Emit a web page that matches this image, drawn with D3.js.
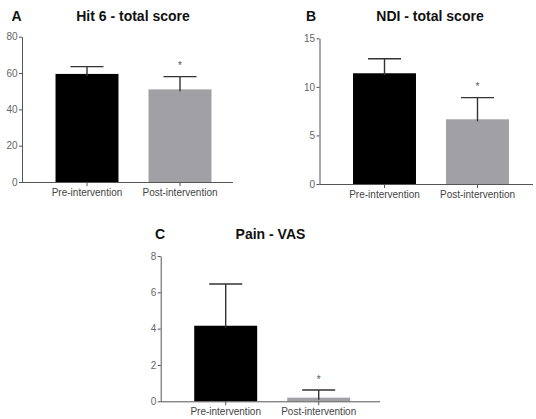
<!DOCTYPE html>
<html>
<head>
<meta charset="utf-8">
<script src="https://cdn.jsdelivr.net/npm/d3@7"></script>
<style>
  html, body { margin: 0; padding: 0; background: #fff; }
  svg { display: block; font-family: "Liberation Sans", Arial, sans-serif; }
</style>
</head>
<body>
<svg id="chart" width="536" height="419"></svg>
<script>
// ---- data ----
const categories = ["Pre-intervention", "Post-intervention"];

const hitMeans = [59.5, 51.0];
const hitErrors = [4.0, 7.0];
const hitTicks = [0, 20, 40, 60, 80];

const ndiMeans = [11.4, 6.66];
const ndiErrors = [1.5, 2.23];
const ndiTicks = [0, 5, 10, 15];

const vasMeans = [4.16, 0.2];
const vasErrors = [2.3, 0.42];
const vasTicks = [0, 2, 4, 6, 8];

const panelLetters = ["A", "B", "C"];
const panelTitles = ["Hit 6 - total score", "NDI - total score", "Pain - VAS"];
const significant = [false, true]; // asterisk on post-intervention

const barColors = ["#000000", "#a1a1a5"];

// ---- layout (positions only) ----
const layouts = [
  { axisX: 22,    y0: 182,   yTop: 36.7, xEnd: 233, letterX: 11.5, titleX: 133, titleY: 20.5 },
  { axisX: 319.5, y0: 184,   yTop: 38.3, xEnd: 533, letterX: 306,  titleX: 430, titleY: 20.5 },
  { axisX: 160.7, y0: 401.3, yTop: 256,  xEnd: 380, letterX: 155,  titleX: 270.5, titleY: 239.3 }
];

const panels = [
  { means: hitMeans, errors: hitErrors, ticks: hitTicks },
  { means: ndiMeans, errors: ndiErrors, ticks: ndiTicks },
  { means: vasMeans, errors: vasErrors, ticks: vasTicks }
];

const svg = d3.select("#chart");

panels.forEach((p, i) => {
  const L = layouts[i];
  const g = svg.append("g");
  const yMax = p.ticks[p.ticks.length - 1];

  const y = d3.scaleLinear().domain([0, yMax]).range([L.y0, L.yTop]);
  const x = d3.scaleBand()
    .domain(categories)
    .range([L.axisX + 18.5, L.axisX + 204.5])
    .paddingInner(0.323)
    .paddingOuter(0.1615);

  // bars
  const data = categories.map((c, j) => ({ c, m: p.means[j], e: p.errors[j], j }));
  g.selectAll("rect.bar").data(data).join("rect")
    .attr("class", "bar")
    .attr("x", d => x(d.c))
    .attr("width", x.bandwidth())
    .attr("y", d => y(d.m))
    .attr("height", d => y(0) - y(d.m))
    .attr("fill", d => barColors[d.j]);

  // error bars (upper)
  const capHalf = 16.5;
  g.selectAll("line.err").data(data).join("line")
    .attr("class", "err")
    .attr("x1", d => x(d.c) + x.bandwidth() / 2)
    .attr("x2", d => x(d.c) + x.bandwidth() / 2)
    .attr("y1", d => y(d.m) + 2)
    .attr("y2", d => y(d.m + d.e))
    .attr("stroke", "#333").attr("stroke-width", 1.4);
  g.selectAll("line.cap").data(data).join("line")
    .attr("class", "cap")
    .attr("x1", d => x(d.c) + x.bandwidth() / 2 - capHalf)
    .attr("x2", d => x(d.c) + x.bandwidth() / 2 + capHalf)
    .attr("y1", d => y(d.m + d.e))
    .attr("y2", d => y(d.m + d.e))
    .attr("stroke", "#333").attr("stroke-width", 1.4);

  // asterisks
  g.selectAll("text.star").data(data.filter(d => significant[d.j])).join("text")
    .attr("class", "star")
    .attr("x", d => x(d.c) + x.bandwidth() / 2)
    .attr("y", d => y(d.m + d.e) - 7.5)
    .attr("text-anchor", "middle")
    .attr("font-size", 10)
    .attr("fill", "#555")
    .text("*");

  // y axis
  const yAxis = g.append("g")
    .attr("transform", `translate(${L.axisX},0)`)
    .call(d3.axisLeft(y).tickValues(p.ticks).tickSize(3).tickSizeOuter(0).tickPadding(1.5));
  yAxis.select(".domain").attr("stroke", "#555");
  yAxis.selectAll(".tick line").attr("stroke", "#555");
  yAxis.selectAll(".tick text").attr("fill", "#666").attr("font-size", 10)
    .attr("font-family", "Liberation Sans, Arial, sans-serif");

  // x axis
  const xAxis = g.append("g")
    .attr("transform", `translate(0,${L.y0})`)
    .call(d3.axisBottom(x).tickSize(4).tickPadding(3));
  xAxis.select(".domain").remove();
  xAxis.append("line")
    .attr("x1", L.axisX).attr("x2", L.xEnd)
    .attr("y1", 0.5).attr("y2", 0.5)
    .attr("stroke", "#555");
  xAxis.selectAll(".tick line").attr("stroke", "#555");
  xAxis.selectAll(".tick text").attr("fill", "#444").attr("font-size", 10)
    .attr("font-family", "Liberation Sans, Arial, sans-serif");

  // title + letter
  g.append("text")
    .attr("x", L.titleX).attr("y", L.titleY)
    .attr("text-anchor", "middle")
    .attr("font-size", 14).attr("font-weight", "bold").attr("fill", "#111")
    .text(panelTitles[i]);
  g.append("text")
    .attr("x", L.letterX).attr("y", L.titleY)
    .attr("font-size", 14).attr("font-weight", "bold").attr("fill", "#111")
    .text(panelLetters[i]);
});
</script>
</body>
</html>
